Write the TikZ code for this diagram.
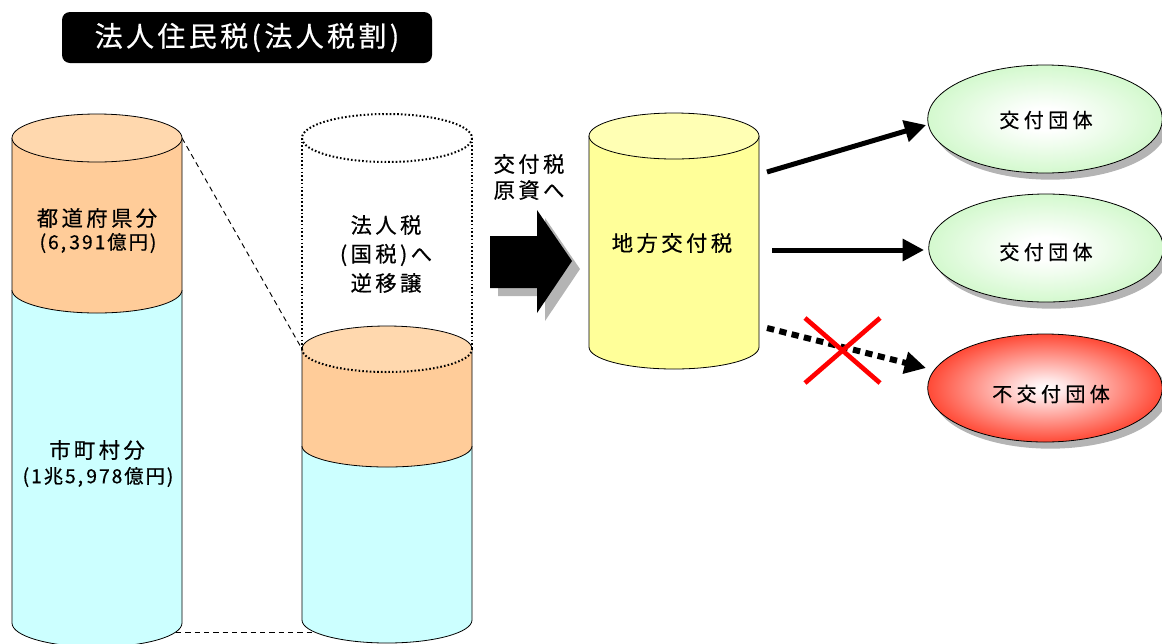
\documentclass[tikz,border=0pt]{standalone}
\usepackage{fontspec}
\setmainfont[FakeBold=0.5]{Noto Sans CJK JP}
\usetikzlibrary{arrows.meta,shapes.geometric,shadows}
\definecolor{cblue}{HTML}{CCFFFF}
\definecolor{corange}{HTML}{FFCC99}
\definecolor{corangetop}{HTML}{FFD8AE}
\definecolor{cyellow}{HTML}{FFFF99}
\definecolor{cyellowtop}{HTML}{FFFFB4}
\definecolor{cshadow}{HTML}{B4B4B4}
\definecolor{cgreen}{RGB}{192,246,184}
\definecolor{cred}{RGB}{255,36,12}
\definecolor{cpink}{RGB}{255,232,232}
\pgfdeclareradialshading{greenglow}{\pgfpoint{0bp}{0bp}}{color(0bp)=(white); color(5bp)=(white); color(34bp)=(cgreen); color(50bp)=(cgreen)}
\pgfdeclareradialshading{redglow}{\pgfpoint{0bp}{0bp}}{color(0bp)=(white); color(4bp)=(cpink); color(30bp)=(cred); color(50bp)=(cred)}
\begin{document}
\begin{tikzpicture}[x=0.75pt,y=-0.75pt,
  cyl/.style={draw=black, line width=0.6pt},
  dotline/.style={draw=black, line width=1.5pt, dash pattern=on 1.2pt off 1.6pt},
  thindash/.style={draw=black, line width=0.7pt, dash pattern=on 4pt off 3pt},
  bigtxt/.style={inner sep=0pt, font=\fontsize{16pt}{19pt}\selectfont\addfontfeatures{LetterSpace=16}},
  smalltxt/.style={inner sep=0pt, font=\fontsize{14.5pt}{17pt}\selectfont\addfontfeatures{LetterSpace=10}},
  elltxt/.style={inner sep=0pt, font=\fontsize{15pt}{18pt}\selectfont\addfontfeatures{LetterSpace=22}},
  oval/.style={ellipse, draw=black, line width=0.6pt, minimum width=176pt, minimum height=81pt, inner sep=0pt,
    drop shadow={shadow xshift=4pt, shadow yshift=-5pt, fill=cshadow, opacity=1}},
  thickarrow/.style={line width=3.75pt, -{Triangle[length=16pt,width=16pt]}},
  dotarrow/.style={line width=4.5pt, dash pattern=on 5.5pt off 4pt, -{Triangle[length=16pt,width=16pt]}},
  redx/.style={draw=red, line width=3.5pt},
  titlebox/.style={fill=black, rounded corners=6pt, minimum width=277.5pt, minimum height=38.25pt, inner sep=0pt,
    text=white, font=\fontsize{21pt}{24pt}\selectfont\addfontfeatures{LetterSpace=12}}
]
\useasboundingbox (0,0) rectangle (1162,643);

% title
\node[titlebox] (title) at (247,37.5) {法人住民税(法人税割)};

% guide dashed lines
\coordinate (ltr) at (182,138);
\coordinate (rol) at (302,349);
\coordinate (lbot) at (176,632);
\coordinate (rbot) at (314,632);
\draw[thindash] (ltr) -- (rol);
\draw[thindash] (lbot) -- (rbot);

% left cylinder
\fill[cblue] (12,290) -- (12,623) arc[start angle=180,end angle=0,x radius=85,y radius=24] -- (182,290) -- cycle;
\draw[cyl] (12,290) -- (12,623) arc[start angle=180,end angle=0,x radius=85,y radius=24] -- (182,290);
\fill[corange] (12,138) -- (12,290) arc[start angle=180,end angle=0,x radius=85,y radius=23] -- (182,138) -- cycle;
\draw[cyl] (12,138) -- (12,290) arc[start angle=180,end angle=0,x radius=85,y radius=23] -- (182,138);
\filldraw[cyl, fill=corangetop] (97,138) ellipse[x radius=85,y radius=24];

\node[bigtxt] (pref) at (97,218) {都道府県分};
\node[smalltxt] (prefamt) at (98,243) {(6,\,391億円)};
\node[bigtxt] (muni) at (97,450) {市町村分};
\node[smalltxt] (muniamt) at (98,477) {(1兆5,\,978億円)};

% right cylinder
\fill[cblue] (302,446) -- (302,620) arc[start angle=180,end angle=0,x radius=85,y radius=23] -- (472,446) -- cycle;
\draw[cyl] (302,446) -- (302,620) arc[start angle=180,end angle=0,x radius=85,y radius=23] -- (472,446);
\fill[corange] (302,349) -- (302,446) arc[start angle=180,end angle=0,x radius=85,y radius=21] -- (472,349) -- cycle;
\draw[cyl] (302,349) -- (302,446) arc[start angle=180,end angle=0,x radius=85,y radius=21] -- (472,349);
\fill[corangetop] (387,349) ellipse[x radius=85,y radius=23];
\draw[cyl] (302,349) arc[start angle=180,end angle=360,x radius=85,y radius=23];
\draw[dotline] (302,349) arc[start angle=180,end angle=0,x radius=85,y radius=23];
\draw[dotline] (387,138) ellipse[x radius=85,y radius=24];
\draw[dotline] (302,138) -- (302,349);
\draw[dotline] (472,138) -- (472,349);

\node[bigtxt] (corp1) at (386,225) {法人税};
\node[bigtxt] (corp2) at (386,255) {(国税)へ};
\node[bigtxt] (corp3) at (386,283) {逆移譲};

% block arrow
\fill[cshadow] (498,244) -- (545,244) -- (545,218) -- (580,269) -- (545,321) -- (545,296) -- (498,296) -- cycle;
\fill[black] (490,236) -- (537,236) -- (537,210) -- (572,261) -- (537,313) -- (537,288) -- (490,288) -- cycle;
\node[bigtxt] (src1) at (529,164) {交付税};
\node[bigtxt] (src2) at (529,190) {原資へ};

% yellow cylinder
\fill[cyellow] (589,136) -- (589,347) arc[start angle=180,end angle=0,x radius=85,y radius=22] -- (759,136) -- cycle;
\draw[cyl] (589,136) -- (589,347) arc[start angle=180,end angle=0,x radius=85,y radius=22] -- (759,136);
\filldraw[cyl, fill=cyellowtop] (674,136) ellipse[x radius=85,y radius=23];
\node[bigtxt] (lat) at (672,243) {地方交付税};

% ovals
\node[oval, shading=greenglow] (g1) at (1045,119) {};
\node[oval, shading=greenglow] (g2) at (1046,248) {};
\node[oval, shading=redglow] (g3) at (1045,388) {};
\node[elltxt] (g1t) at (1046,120) {交付団体};
\node[elltxt] (g2t) at (1046,252) {交付団体};
\node[elltxt] (g3t) at (1051,394) {不交付団体};

% arrows
\coordinate (s1) at (767,172);
\coordinate (s2) at (772,250);
\coordinate (s3) at (767,328);
\coordinate (e1) at (926,125);
\coordinate (e2) at (924,250);
\coordinate (e3) at (926,368);
\draw[thickarrow] (s1) -- (e1);
\draw[thickarrow] (s2) -- (e2);
\draw[dotarrow] (s3) -- (e3);

% red cross
\coordinate (x1) at (805,318);
\coordinate (x2) at (880,383);
\coordinate (x3) at (880,318);
\coordinate (x4) at (805,383);
\draw[redx] (x1) -- (x2);
\draw[redx] (x3) -- (x4);
\end{tikzpicture}
\end{document}
